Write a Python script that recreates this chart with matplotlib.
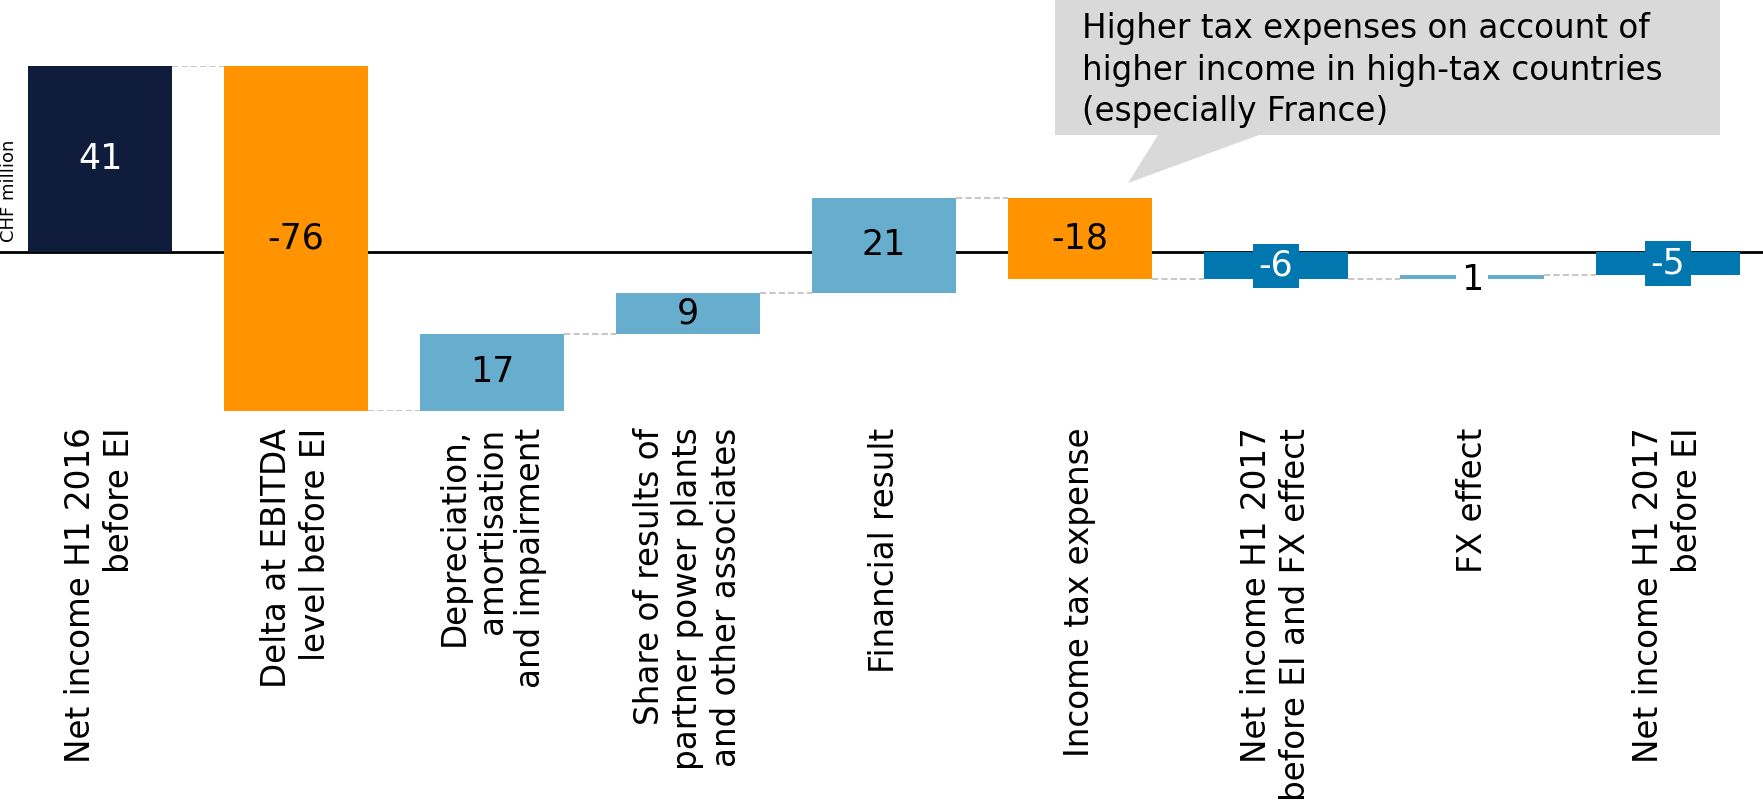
import matplotlib.pyplot as plt
from matplotlib.patches import Polygon

categories = [
    "Net income H1 2016\nbefore EI",
    "Delta at EBITDA\nlevel before EI",
    "Depreciation,\namortisation\nand impairment",
    "Share of results of\npartner power plants\nand other associates",
    "Financial result",
    "Income tax expense",
    "Net income H1 2017\nbefore EI and FX effect",
    "FX effect",
    "Net income H1 2017\nbefore EI",
]
values = [41, -76, 17, 9, 21, -18, -6, 1, -5]
is_total = [True, False, False, False, False, False, True, False, True]
bar_colors = ["#101c3b", "#ff9400", "#67aece", "#67aece", "#67aece",
              "#ff9400", "#0077af", "#67aece", "#0077af"]
label_colors = ["white", "black", "black", "black", "black",
                "black", "white", "black", "white"]
note = ("Higher tax expenses on account of\n"
        "higher income in high-tax countries\n"
        "(especially France)")

W, H = 1763, 800
fig = plt.figure(figsize=(W / 100, H / 100), dpi=100)
ax = fig.add_axes([0.0, 1 - 411 / H, 1.0, 345 / H])

# waterfall geometry
bottoms, tops = [], []
running = 0
for v, tot in zip(values, is_total):
    if tot:
        lo, hi = 0, v
        running = v
    else:
        lo, hi = running, running + v
        running += v
    bottoms.append(min(lo, hi))
    tops.append(max(lo, hi))
ends = []
running = 0
for v, tot in zip(values, is_total):
    running = v if tot else running + v
    ends.append(running)

x = list(range(len(values)))
width = 0.735
ax.axhline(0, color="black", lw=2, zorder=1)
ax.bar(x, [t - b for t, b in zip(tops, bottoms)], bottom=bottoms,
       width=width, color=bar_colors, zorder=2)

# dashed connectors between bars
for i in range(len(values) - 1):
    ax.plot([x[i] + width / 2, x[i + 1] - width / 2], [ends[i], ends[i]],
            color="#c8c8c8", lw=1.5, ls=(0, (3, 1.5)), zorder=1)

for i, v in enumerate(values):
    yc = (tops[i] + bottoms[i]) / 2
    kw = {}
    if is_total[i] and abs(v) < 10:
        kw["bbox"] = dict(boxstyle="square,pad=0.15", fc=bar_colors[i], ec="none")
    elif abs(v) < 3:
        kw["bbox"] = dict(boxstyle="square,pad=0.15", fc="white", ec="none")
        yc -= 0.6
    ax.text(x[i], yc, f"{v}", ha="center", va="center", fontsize=25,
            color=label_colors[i], zorder=3, **kw)

ax.set_xlim(-100 / 196, (W - 100) / 196)
ax.set_ylim(-35, 41)
ax.set_xticks(x)
ax.set_xticklabels(categories, rotation=90, fontsize=23.5)
for lab in ax.get_xticklabels():
    lab.set_multialignment("right")
ax.tick_params(axis="x", length=0, pad=12)
ax.set_yticks([])
for s in ax.spines.values():
    s.set_visible(False)

fig.text(9 / W, 1 - 242 / H, "CHF million", rotation=90, ha="center",
         va="bottom", fontsize=13)

# callout box for the tax note
px = [(1055, -5), (1720, -5), (1720, 135), (1259, 135), (1128, 183),
      (1158, 135), (1055, 135)]
fig.patches.append(Polygon([(a / W, 1 - b / H) for a, b in px], closed=True,
                           transform=fig.transFigure, fc="#d9d9d9", ec="none"))
fig.text(1082 / W, 1 - 12 / H, note, ha="left", va="top", fontsize=23.5,
         linespacing=1.33)

fig.savefig("out.png", dpi=100)
